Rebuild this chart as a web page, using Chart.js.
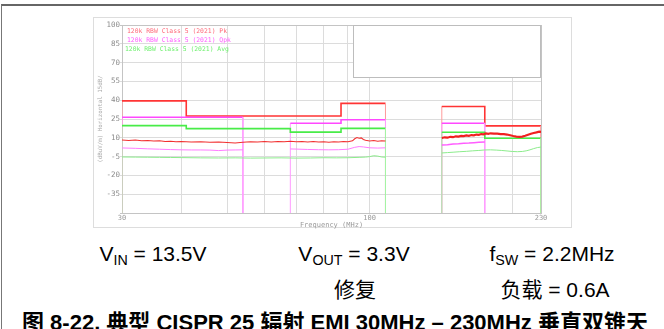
<!DOCTYPE html>
<html>
<head>
<meta charset="utf-8">
<script src="https://cdn.jsdelivr.net/npm/chart.js@4/dist/chart.umd.min.js"></script>
<style>
  body { margin: 0; width: 664px; height: 329px; overflow: hidden; background: #fff;
         font-family: "Liberation Sans", Arial, "Noto Sans CJK SC", sans-serif; }
  #outer { position: absolute; left: 1px; top: 4px; width: 700px; height: 400px;
           border-top: 2px solid #666; border-left: 1px solid #777; }
  #frame { position: absolute; left: 93px; top: 17px; width: 477px; height: 209px; border: 1px solid #ddd; }
  #emi { position: absolute; left: 93px; top: 17px; }
  .t { position: absolute; font-size: 21px; line-height: 21px; color: #000; white-space: nowrap;
       transform: translateX(-50%); }
  .t sub { font-size: 0.68em; vertical-align: -0.3em; line-height: 0; }
  .cap { position: absolute; left: 22px; top: 312px; font-size: 22px; line-height: 22px;
         font-weight: bold; white-space: nowrap; }
</style>
</head>
<body>
<div id="outer"></div>
<div id="frame"></div>
<canvas id="emi" width="478" height="216"></canvas>

<div class="t" style="left:153px; top:243px">V<sub>IN</sub> = 13.5V</div>
<div class="t" style="left:354px; top:243px">V<sub>OUT</sub> = 3.3V</div>
<div class="t" style="left:552px; top:243px">f<sub>SW</sub> = 2.2MHz</div>
<div class="t" style="left:355px; top:279px">修复</div>
<div class="t" style="left:555px; top:279px">负载 = 0.6A</div>
<div class="cap">图 8-22. 典型 CISPR 25 辐射 EMI 30MHz – 230MHz 垂直双锥天</div>

<script>
// limit lines (MHz / dBuV/m), null = gap between bands
const pkLimFreq  = [30, 30, 41, 41, 87, 87, 108, 108, 120, 142, 142, 175, 175, 230, 230];
const pkLimLevel = [-50, 39.5, 39.5, 27.4, 27.4, 37.5, 37.5, -50, null, -50, 35, 35, 19.5, 19.5, -50];

const qpLimFreq  = [30, 30, 54, 54, 60, 68, 68, 87, 87, 108, 108, 120, 142, 142, 175, 175];
const qpLimLevel = [-50, 26.4, 26.4, -50, null, -50, 21.6, 21.6, 24.4, 24.4, -50, null, -50, 21.6, 21.6, -50];

const avLimFreq  = [30, 30, 41, 41, 68, 68, 87, 87, 108, 108, 120, 142, 142, 175, 175, 230, 230];
const avLimLevel = [-50, 19.7, 19.7, 17.3, 17.3, 14.5, 14.5, 17.5, 17.5, -50, null, -50, 14.4, 14.4, 9.6, 9.6, -50];

// measured peak
const pkFreq1 = [30, 31, 32, 33, 34, 35, 36, 37, 38, 39, 40, 42, 44, 46, 48, 50, 52, 54, 56, 58, 60, 62, 64, 66,
                 68, 70, 72, 74, 76, 78, 80, 82, 84, 86, 88, 90, 92, 93, 94, 95, 96, 97, 98, 100, 102, 104, 106, 108];
const pkMeas1 = [8.3, 7.9, 8.2, 7.6, 7.8, 7.4, 7.7, 7.1, 7.3, 6.8, 7.0, 6.6, 6.9, 6.5, 6.7, 6.3, 5.8, 6.4, 6.8, 6.6, 7.0, 6.7, 7.1, 6.8,
                 7.2, 6.9, 7.1, 6.7, 7.0, 6.6, 6.8, 6.5, 6.9, 6.6, 7.0, 6.8, 7.6, 9.2, 10.2, 9.6, 9.9, 8.6, 8.0, 7.4, 7.8, 7.2, 7.7, 7.5];
const pkFreq3 = [142, 144, 146, 148, 150, 152, 154, 156, 158, 160, 162, 164, 166, 168, 170, 172, 174, 176, 178, 180,
                 183, 186, 189, 192, 195, 198, 201, 204, 207, 210, 213, 216, 219, 222, 225, 228, 230];
const pkMeas3 = [9.8, 10.4, 10.1, 10.8, 10.5, 11.2, 10.9, 11.5, 11.3, 11.9, 11.6, 12.2, 12.0, 12.6, 12.4, 13.0, 12.8, 13.5, 13.2, 13.6,
                 13.3, 13.4, 13.0, 12.9, 12.6, 12.0, 11.4, 11.0, 10.8, 11.0, 11.6, 12.4, 13.2, 13.8, 14.3, 14.9, 14.7];

// measured quasi-peak
const qpFreq1 = [30, 32, 34, 36, 38, 40, 42, 44, 46, 48, 50, 52, 54];
const qpMeas1 = [1.9, 1.6, 1.2, 0.9, 0.6, 0.4, 0.3, 0.3, 0.2, -0.2, 0.2, 0.3, 0.4];
const qpFreq2 = [68, 70, 74, 78, 82, 86, 90, 93, 95, 97, 100, 104, 108];
const qpMeas2 = [1.1, 1.0, 0.7, 0.5, 0.4, 0.5, 0.9, 2.4, 3.0, 2.7, 2.0, 1.8, 2.0];
const qpFreq3 = [142, 146, 150, 154, 158, 162, 166, 170, 175];
const qpMeas3 = [4.3, 4.5, 5.0, 5.2, 5.6, 5.8, 6.1, 6.4, 6.6];

// measured average
const avFreq1 = [30, 32, 34, 36, 38, 40, 44, 48, 52, 56, 60, 65, 70, 75, 80, 85, 90, 95, 98, 100, 102, 104, 106, 108];
const avMeas1 = [-5.3, -5.4, -5.5, -5.6, -5.7, -5.8, -6.0, -6.1, -6.0, -6.2, -6.1, -6.0, -6.2, -6.1, -5.9, -6.0, -5.9, -5.6, -5.4, -5.0, -4.3, -4.6, -5.3, -5.5];
const avFreq3 = [142, 146, 150, 155, 160, 165, 170, 175, 180, 185, 190, 195, 200, 205, 210, 214, 218, 222, 226, 230];
const avMeas3 = [-2.1, -1.8, -1.5, -1.1, -0.8, -0.4, -0.1, 0.3, 0.4, 0.2, -0.1, -0.5, -0.9, -1.1, -0.9, -0.4, 0.4, 1.4, 2.2, 2.6];

const xGrid = [30, 40, 50, 60, 70, 80, 90, 100, 200, 230];
const xLabels = [30, 100, 230];
const legendText = ['120k RBW Class 5 (2021) Pk', '120k RBW Class 5 (2021) Qpk', '120k RBW Class 5 (2021) Avg'];
const boxFreq = [92.2, 230];
const boxLevel = [58.5, 100];

const RED = '#ff3434', MAG = '#ff48ff', GRN = '#48ec48';

function pts(freq, level) {
    return freq.map((f, i) => ({ x: f, y: level[i] }));
}

function limit(freq, level, color, light) {
    return {
        data: pts(freq, level),
        borderColor: color,
        borderWidth: 1.6,
        spanGaps: false,
        segment: {
            borderColor: c => (c.p0.parsed.y === -50 || c.p1.parsed.y === -50) ? light : undefined,
            borderWidth: c => (c.p0.parsed.y === -50 || c.p1.parsed.y === -50) ? 1 : undefined
        }
    };
}

function trace(freq, level, color, width) {
    return { data: pts(freq, level), borderColor: color, borderWidth: width };
}

const overlay = {
    id: 'overlay',
    beforeDatasetsDraw(chart) {
        const { ctx, scales: { x, y } } = chart;
        const x1 = x.getPixelForValue(boxFreq[0]), x2 = x.getPixelForValue(boxFreq[1]);
        const y1 = y.getPixelForValue(boxLevel[1]), y2 = y.getPixelForValue(boxLevel[0]);
        ctx.save();
        ctx.fillStyle = '#fff';
        ctx.fillRect(x1, y1, x2 - x1, y2 - y1);
        ctx.strokeStyle = '#bdbdbd';
        ctx.lineWidth = 1;
        ctx.strokeRect(Math.round(x1) + 0.5, Math.round(y1) + 0.5, Math.round(x2 - x1) - 1, Math.round(y2 - y1));
        ctx.restore();
    },
    afterDatasetsDraw(chart) {
        const { ctx, chartArea } = chart;
        const cols = ['#ff6a7a', '#ff5cff', '#6ef06e'];
        const dx = [5, 5, 3];
        const dy = [6.5, 15, 24];
        ctx.save();
        ctx.font = '6.4px "DejaVu Sans Mono"';
        ctx.textBaseline = 'middle';
        legendText.forEach((t, i) => {
            ctx.fillStyle = cols[i];
            ctx.fillText(t, chartArea.left + dx[i], chartArea.top + dy[i]);
        });
        ctx.restore();
    }
};

const gridCol = '#dcdcdc', edgeCol = '#c4c4c4';
const mono = { family: 'DejaVu Sans Mono', size: 7 };

new Chart(document.getElementById('emi'), {
    type: 'line',
    data: {
        datasets: [
            trace(pkFreq1, pkMeas1, '#f23030', 1.1),
            trace(pkFreq3, pkMeas3, '#f02020', 2.2),
            trace(qpFreq1, qpMeas1, '#ff7cff', 1),
            trace(qpFreq2, qpMeas2, '#ff7cff', 1),
            trace(qpFreq3, qpMeas3, '#ff5cff', 1.4),
            trace(avFreq1, avMeas1, '#8cec8c', 1),
            trace(avFreq3, avMeas3, '#8cec8c', 1),
            limit(avLimFreq, avLimLevel, GRN, '#a4f4a4'),
            limit(qpLimFreq, qpLimLevel, MAG, '#ff9cff'),
            limit(pkLimFreq, pkLimLevel, RED, '#ff9c9c')
        ]
    },
    options: {
        responsive: false,
        animation: false,
        layout: { padding: { left: 0, right: 30, top: 8, bottom: 0 } },
        elements: { point: { radius: 0 }, line: { tension: 0 } },
        plugins: { legend: { display: false }, tooltip: { enabled: false } },
        scales: {
            x: {
                type: 'logarithmic',
                min: 30,
                max: 230,
                afterBuildTicks: s => { s.ticks = xGrid.map(v => ({ value: v })); },
                afterFit: s => { s.height = 20; },
                ticks: {
                    autoSkip: false, maxRotation: 0, padding: 1, color: '#9a9a9a', font: mono,
                    callback: v => xLabels.includes(v) ? String(v) : ''
                },
                grid: {
                    drawTicks: false,
                    color: c => (c.tick && (c.tick.value === 30 || c.tick.value === 230)) ? edgeCol : gridCol
                },
                border: { color: edgeCol },
                title: {
                    display: true, text: 'Frequency (MHz)', color: '#9a9a9a', font: mono,
                    padding: { top: 0, bottom: 4 }
                }
            },
            y: {
                min: -50,
                max: 100,
                afterFit: s => { s.width = 29; },
                ticks: {
                    stepSize: 15, padding: 0, color: '#8c8c8c', font: { family: 'DejaVu Sans Mono', size: 7.5 },
                    callback: v => v === -50 ? '' : String(v)
                },
                grid: {
                    tickLength: 2,
                    color: c => (c.tick && (c.tick.value === 100 || c.tick.value === -50)) ? edgeCol : gridCol
                },
                border: { color: edgeCol },
                title: {
                    display: true, text: '(dBuV/m) Horizontal 15dB/', color: '#a8a8a8',
                    font: { family: 'DejaVu Sans Mono', size: 5.8 },
                    padding: { top: 4, bottom: 0 }
                }
            }
        }
    },
    plugins: [overlay]
});
</script>
</body>
</html>
